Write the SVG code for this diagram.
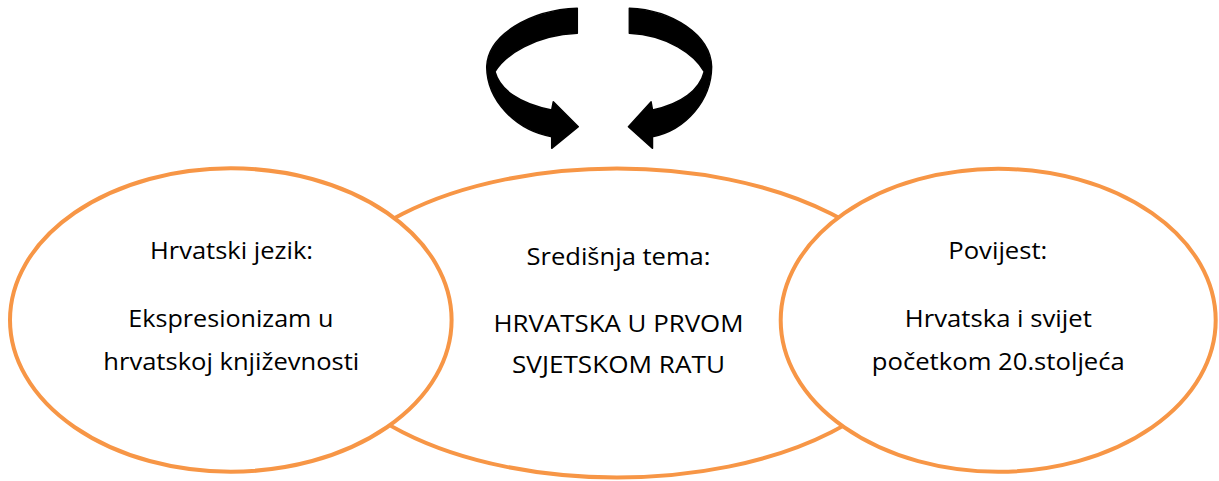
<svg xmlns="http://www.w3.org/2000/svg" width="1219" height="481" viewBox="0 0 1219 481">
  <style>
    .oval { fill: #FFFFFF; stroke: #F79646; stroke-width: 4; }
    .lbl { font-family: "Open Sans", "Liberation Sans", sans-serif; font-size: 24.5px; fill: #000000; text-anchor: middle; }
    .arrow { fill: #000000; stroke: #000000; stroke-width: 1.5; stroke-linejoin: round; }
  </style>
  <defs>
    <path id="cyc" d="M577.3,8.3 C530,10 488,35 486.7,66.7 C487,100 515,130 551.7,136.7 L551.7,148.3 L578.3,126.7 L553.3,101.7 L551.7,110 C520,104 500,90 495,71.7 C505,55 535,35 577.3,33.3 Z"/>
  </defs>
  <g id="connectors">
    <use href="#cyc" class="arrow"/>
    <use href="#cyc" class="arrow" transform="matrix(-0.91 0 0 1 1154.6 0)"/>
  </g>
  <g id="node-center">
    <ellipse class="oval" cx="617" cy="323" rx="303" ry="154.5"/>
    <text class="lbl" x="618.5" y="265" textLength="184" lengthAdjust="spacingAndGlyphs">Središnja tema:</text>
    <text class="lbl" x="618.5" y="331.7" textLength="250" lengthAdjust="spacingAndGlyphs">HRVATSKA U PRVOM</text>
    <text class="lbl" x="618.5" y="373.3" textLength="213" lengthAdjust="spacingAndGlyphs">SVJETSKOM RATU</text>
  </g>
  <g id="node-left">
    <ellipse class="oval" cx="230.8" cy="320" rx="220.8" ry="151.7"/>
    <text class="lbl" x="231.5" y="259.3" textLength="163" lengthAdjust="spacingAndGlyphs">Hrvatski jezik:</text>
    <text class="lbl" x="230.8" y="327.3" textLength="205" lengthAdjust="spacingAndGlyphs">Ekspresionizam u</text>
    <text class="lbl" x="231.3" y="370" textLength="256" lengthAdjust="spacingAndGlyphs">hrvatskoj književnosti</text>
  </g>
  <g id="node-right">
    <ellipse class="oval" cx="998.2" cy="320.3" rx="217.5" ry="151.5"/>
    <text class="lbl" x="997.8" y="259.3" textLength="99" lengthAdjust="spacingAndGlyphs">Povijest:</text>
    <text class="lbl" x="998.3" y="327.3" textLength="187" lengthAdjust="spacingAndGlyphs">Hrvatska i svijet</text>
    <text class="lbl" x="998.3" y="370" textLength="253" lengthAdjust="spacingAndGlyphs">početkom 20.stoljeća</text>
  </g>
</svg>
